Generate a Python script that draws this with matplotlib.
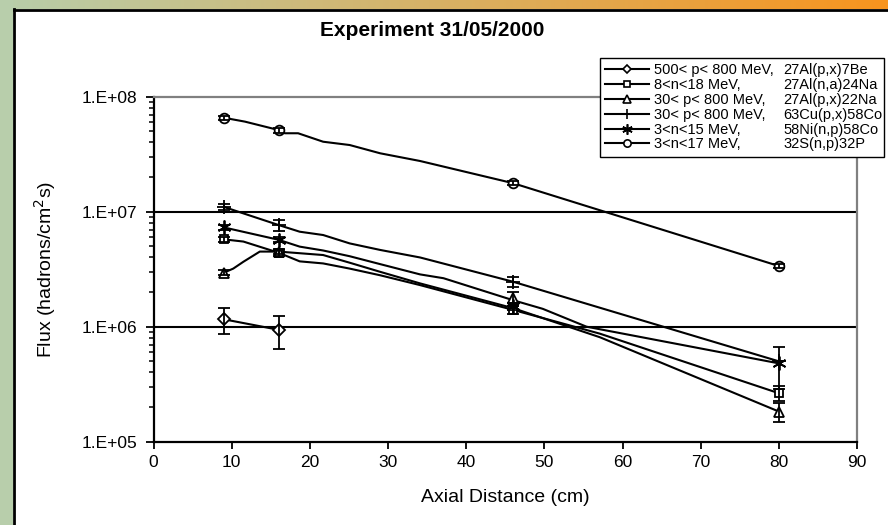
import numpy as np
import matplotlib
matplotlib.use("Agg")
import matplotlib.pyplot as plt
from matplotlib.lines import Line2D
from matplotlib.patches import Rectangle
from matplotlib.ticker import FixedLocator, FuncFormatter, LogLocator, NullFormatter

# measured points (with error bars)
x_be7 = [9, 16]
y_be7 = [1.16e6, 9.4e5]
e_be7 = [3.0e5, 3.0e5]

x_meas = [9, 16, 46, 80]
y_na24 = [5.75e6, 4.4e6, 1.4e6, 2.64e5]
e_na24 = [2.5e5, 2.5e5, 1.0e5, 0.4e5]
y_na22 = [2.95e6, 4.5e6, 1.76e6, 1.83e5]
e_na22 = [1.5e5, 2.0e5, 2.4e5, 0.35e5]
y_co58cu = [1.1e7, 7.66e6, 2.46e6, 5.0e5]
e_co58cu = [0.7e6, 0.8e6, 0.25e6, 0.0]
y_co58ni = [7.3e6, 5.7e6, 1.5e6, 4.8e5]
e_co58ni = [0.3e6, 0.3e6, 0.1e6, 1.9e5]
y_p32 = [6.56e7, 5.13e7, 1.77e7, 3.37e6]
e_p32 = [3.0e6, 2.5e6, 0.8e6, 1.5e5]

# curves drawn through the points
lx_be7 = [9, 16]
ly_be7 = [1.16e6, 9.4e5]
lx_na24 = [9, 11.5, 16, 18.7, 21.7, 25.1, 29.0, 34.1, 46, 57.1, 80]
ly_na24 = [5.75e6, 5.5e6, 4.4e6, 3.7e6, 3.55e6, 3.2e6, 2.8e6, 2.3e6, 1.4e6, 8.7e5, 2.64e5]
lx_na22 = [9, 10.2, 11.5, 13.6, 16, 21.7, 25.1, 29.0, 34.1, 46, 57.1, 80]
ly_na22 = [2.95e6, 3.2e6, 3.67e6, 4.5e6, 4.5e6, 4.2e6, 3.6e6, 3.0e6, 2.38e6, 1.45e6, 8.1e5, 1.83e5]
lx_co58cu = [9, 16, 18.7, 21.7, 25.1, 29.0, 34.1, 46, 80]
ly_co58cu = [1.1e7, 7.66e6, 6.7e6, 6.27e6, 5.3e6, 4.65e6, 4.0e6, 2.46e6, 5.0e5]
lx_co58ni = [9, 16, 18.7, 21.7, 25.1, 29.0, 34.1, 37.1, 46, 49.8, 55.4, 80]
ly_co58ni = [7.3e6, 5.7e6, 4.97e6, 4.6e6, 4.1e6, 3.5e6, 2.85e6, 2.64e6, 1.7e6, 1.43e6, 1.0e6, 4.8e5]
lx_p32 = [9, 11.7, 16, 16.8, 18.5, 21.7, 25.1, 29.0, 34.1, 46, 80]
ly_p32 = [6.56e7, 6.07e7, 5.13e7, 4.81e7, 4.81e7, 4.06e7, 3.80e7, 3.22e7, 2.76e7, 1.77e7, 3.37e6]

labels_energy = ["500< p< 800 MeV,", "8<n<18 MeV,", "30< p< 800 MeV,",
                 "30< p< 800 MeV,", "3<n<15 MeV,", "3<n<17 MeV,"]
labels_reaction = ["27Al(p,x)7Be", "27Al(n,a)24Na", "27Al(p,x)22Na",
                   "63Cu(p,x)58Co", "58Ni(n,p)58Co", "32S(n,p)32P"]

W, H = 888, 525

plt.rcParams['font.family'] = ['Liberation Sans', 'DejaVu Sans']
fig = plt.figure(figsize=(W / 100, H / 100), dpi=100)
fig.patch.set_facecolor("white")

# slide decoration: green strip on the left, gradient bar on top, dark frame
fig.patches.append(Rectangle((0, 0), 13 / W, 1, transform=fig.transFigure,
                             facecolor="#b8ceab", edgecolor="none", zorder=0))
bar = fig.add_axes([0, 1 - 9 / H, 1, 9 / H])
c0 = np.array([184, 206, 171]) / 255
c1 = np.array([248, 148, 30]) / 255
t = np.linspace(0, 1, 300)[None, :, None]
bar.imshow(c0 + (c1 - c0) * t, aspect="auto", extent=[0, 1, 0, 1])
bar.axis("off")
fig.add_artist(Line2D([13.5 / W, 13.5 / W], [0, 1 - 9 / H], transform=fig.transFigure,
                      color="black", lw=2))
fig.add_artist(Line2D([13.5 / W, 1], [1 - 10 / H, 1 - 10 / H], transform=fig.transFigure,
                      color="black", lw=2))

ax = fig.add_axes([153.5 / W, 1 - 441.7 / H, (857 - 153.5) / W, (441.7 - 96.7) / H])
ax.set_yscale("log")
ax.set_xlim(0, 90)
ax.set_ylim(1e5, 1e8)

series = [
    (x_be7, y_be7, e_be7, lx_be7, ly_be7, "D", 6),
    (x_meas, y_na24, e_na24, lx_na24, ly_na24, "s", 6),
    (x_meas, y_na22, e_na22, lx_na22, ly_na22, "^", 7),
    (x_meas, y_co58cu, e_co58cu, lx_co58cu, ly_co58cu, "+", 10),
    (x_meas, y_co58ni, e_co58ni, lx_co58ni, ly_co58ni, (6, 2, 0), 10),
    (x_meas, y_p32, e_p32, lx_p32, ly_p32, "o", 7),
]

handles = []
for xs, ys, es, lx, ly, mk, ms in series:
    ax.plot(lx, ly, color="black", lw=1.5, zorder=3)
    ax.plot(xs, ys, linestyle="none", marker=mk, ms=ms, mfc="white", mec="black",
            mew=1.3, zorder=5)
    # error bars sit on top of the markers, as in the original
    ax.errorbar(xs, ys, yerr=es, fmt="none", ecolor="black", elinewidth=1.3,
                capsize=4.5, capthick=1.3, zorder=6)
    handles.append(Line2D([], [], color="black", lw=1.5, marker=mk, ms=ms * 0.75,
                          mfc="white", mec="black", mew=1.2))

# grid lines at the inner decades
for v in [1e6, 1e7]:
    ax.axhline(v, color="black", lw=1.5, zorder=2)

for side in ["left", "bottom"]:
    ax.spines[side].set_color("black")
    ax.spines[side].set_linewidth(1.6)
for side in ["top", "right"]:
    ax.spines[side].set_color("#808080")
    ax.spines[side].set_linewidth(1.6)

ax.xaxis.set_major_locator(FixedLocator(np.arange(0, 91, 10)))
ax.yaxis.set_major_locator(FixedLocator([1e5, 1e6, 1e7, 1e8]))
ax.yaxis.set_major_formatter(FuncFormatter(lambda v, p: "1.E+%02d" % round(np.log10(v))))
ax.yaxis.set_minor_locator(LogLocator(base=10, subs=np.arange(2, 10)))
ax.yaxis.set_minor_formatter(NullFormatter())
ax.tick_params(axis="x", direction="out", length=5, width=1.3, labelsize=12.5, pad=4.5)
ax.tick_params(axis="y", which="major", direction="out", length=5.5, width=1.3,
               labelsize=12.5, pad=6)
ax.tick_params(axis="y", which="minor", direction="out", length=3.6, width=1.1)

ax.set_xlabel("Axial Distance (cm)", fontsize=14, labelpad=14)
ax.set_ylabel("Flux (hadrons/cm$^2$s)", fontsize=14, va="center")
ax.yaxis.set_label_coords((45 - 153.5) / (857 - 153.5), 0.5)

fig.text(432 / W, 1 - 30 / H, "Experiment 31/05/2000", ha="center", va="center",
         fontsize=15, fontweight="bold")

leg = fig.legend(handles, labels_energy, loc="upper left",
                 bbox_to_anchor=(600 / W, 1 - 154 / H, 284 / W, 96 / H),
                 mode="expand", borderaxespad=0, fontsize=10.5, frameon=True,
                 fancybox=False, edgecolor="black", framealpha=1,
                 handlelength=3.0, handletextpad=0.35, labelspacing=0.06,
                 borderpad=0.35)
leg.get_frame().set_linewidth(1.0)

fig.canvas.draw()
for txt, lab in zip(leg.get_texts(), labels_reaction):
    bb = txt.get_window_extent()
    yc = (bb.y0 + bb.y1) / 2 / fig.bbox.height
    fig.text(783 / W, yc, lab, ha="left", va="center", fontsize=10.5, zorder=10)

fig.savefig("out.png", dpi=100, facecolor="white")
